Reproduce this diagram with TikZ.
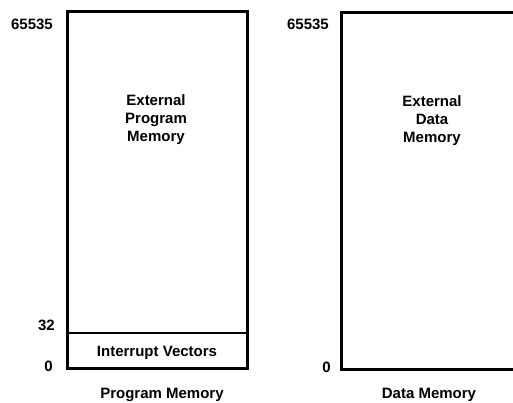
\documentclass[tikz,border=0pt]{standalone}
\usepackage{fontspec}
\setmainfont{Liberation Sans}
\begin{document}
\begin{tikzpicture}[x=1pt,y=-1pt,
  lbl/.style={font=\fontsize{15}{18}\selectfont\bfseries, inner sep=0pt, align=center},
  boxline/.style={line width=3pt},
  thinline/.style={line width=1.4pt}]
\useasboundingbox (0,0) rectangle (513,402);
% left memory box
\draw[boxline] (67,11) rectangle (247,368);
\coordinate (ivl) at (67,333);
\coordinate (ivr) at (247,333);
\draw[thinline] (ivl) -- (ivr);
% right memory box (cut off at the right edge)
\draw[boxline] (515,12) -- (341,12) -- (341,369) -- (515,369);
% labels left
\node[lbl, anchor=east] (l65535) at (53,24) {65535};
\node[lbl] (epm) at (156,120) {External\\Program\\Memory};
\node[lbl, anchor=east] (l32) at (55,325) {32};
\node[lbl, anchor=east] (l0) at (53,366) {0};
\node[lbl] (iv) at (157,353) {Interrupt Vectors};
\node[lbl] (pm) at (162,395) {Program Memory};
% labels right
\node[lbl, anchor=east] (r65535) at (329,24) {65535};
\node[lbl] (edm) at (432,121) {External\\Data\\Memory};
\node[lbl, anchor=east] (r0) at (331,367) {0};
\node[lbl] (dm) at (429,395) {Data Memory};
\end{tikzpicture}
\end{document}
